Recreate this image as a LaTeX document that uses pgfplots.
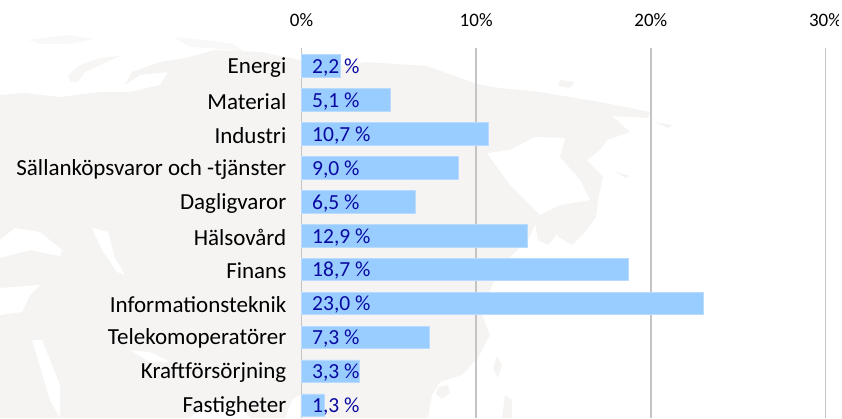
\documentclass[border=0pt]{standalone}
\usepackage{fontspec}
\setmainfont{Carlito}
\usepackage{pgfplots}
\pgfplotsset{compat=1.18}
\definecolor{land}{HTML}{F5F4F3}
\definecolor{barblue}{HTML}{99CCFF}
\definecolor{gridg}{HTML}{C4C4C4}
\definecolor{valblue}{HTML}{0A0AA0}
\begin{document}
\begin{tikzpicture}[x=1pt,y=1pt]
\path (0,0) rectangle (842,418);
\clip (0,0) rectangle (838.5,418);
% faint background map, drawn in image coordinates (y measured from the top)
\begin{scope}[yscale=-1,yshift=-418]
\fill[land] (0,95)--(25,93)--(60,97)--(100,92)--(130,92)--(160,85)--(168,72)--(140,75)--(125,85)--(132,72)--(160,62)--(185,58)--(215,50)--(260,52)--(300,60)--(340,65)--(367,62)--(427,66)--(477,84)--(500,88)--(540,92)--(600,102)--(650,112)--(648,118)--(612,116)--(630,132)--(607,140)--(600,150)--(587,160)--(603,177)--(598,200)--(596,217)--(585,232)--(572,245)--(560,238)--(545,222)--(535,225)--(528,240)--(505,262)--(492,285)--(482,315)--(490,335)--(478,358)--(462,375)--(440,382)--(432,395)--(428,418)--(0,418)--cycle;
\fill[land!60!white] (28,40)--(50,37)--(70,35)--(93,39)--(70,44)--(40,44)--cycle;
\fill[land!60!white] (173,37)--(205,40)--(233,44)--(245,52)--(210,48)--(190,47)--cycle;
\fill[land!80!white] (68,75)--(80,65)--(100,58)--(120,56)--(105,63)--(85,72)--(78,82)--(70,82)--cycle;
\fill[land] (560,80)--(575,82)--(570,88)--(558,86)--cycle;
\fill[land] (655,122)--(672,125)--(668,128)--cycle;
\fill[land] (614,171)--(620,173)--(630,176)--(626,178)--cycle;
\fill[land] (535,222)--(553,210)--(562,228)--(548,245)--(538,240)--cycle;
\fill[land] (497,356)--(502,365)--(498,378)--(493,368)--cycle;
\fill[land] (438,387)--(448,385)--(450,393)--(442,399)--(436,394)--cycle;
\fill[land] (505,395)--(512,400)--(512,418)--(502,418)--cycle;
% seas
\fill[white] (0,240)--(15,228)--(40,232)--(62,250)--(60,256)--(30,250)--(0,258)--cycle;
\fill[white] (92,228)--(108,232)--(115,258)--(125,275)--(117,272)--(102,250)--cycle;
\fill[white] (0,288)--(40,285)--(30,295)--(22,312)--(0,315)--cycle;
\fill[white] (32,340)--(42,340)--(60,385)--(60,418)--(50,400)--cycle;
\fill[white] (130,350)--(150,352)--(170,362)--(150,362)--cycle;
\fill[white] (190,418)--(215,398)--(240,406)--(250,418)--cycle;
\fill[white] (285,418)--(292,400)--(300,395)--(300,418)--cycle;
\fill[white] (487,153)--(510,150)--(535,137)--(565,138)--(560,157)--(580,180)--(590,200)--(560,205)--(540,215)--(510,185)--cycle;
\end{scope}
\begin{axis}[
  at={(301.5pt,0pt)}, anchor=south west,
  scale only axis, width=524pt, height=370pt,
  xmin=0, xmax=30, ymin=-0.38, ymax=10.53,
  axis line style={draw=none},
  axis x line*=top,
  xtick={0,10,20,30}, xticklabels={0\%,10\%,20\%,30\%},
  xmajorgrids, major grid style={gridg,line width=1.5pt},
  major tick length=0pt,
  ytick={0,...,10},
  yticklabels={Fastigheter,Kraftförsörjning,Telekomoperatörer,Informationsteknik,Finans,Hälsovård,Dagligvaror,Sällanköpsvaror och -tjänster,Industri,Material,Energi},
  y tick label style={font=\fontsize{23}{26}\selectfont,anchor=east,inner sep=0pt,xshift=-15pt,yshift=-1.5pt,text=black},
  x tick label style={font=\fontsize{19}{22}\selectfont,inner sep=0pt,yshift=21pt,text=black},
  clip=false,
]
\addplot[xbar, bar width=22.5pt, fill=barblue, draw=barblue!70!white, line width=0.5pt, bar shift=0pt, forget plot]
 coordinates {(2.2,10) (5.1,9) (10.7,8) (9.0,7) (6.5,6) (12.9,5) (18.7,4) (23.0,3) (7.3,2) (3.3,1) (1.3,0)};
\addplot[draw=none, mark=none, forget plot, point meta=explicit symbolic,
  nodes near coords,
  every node near coord/.append style={anchor=west, inner sep=0pt, xshift=10.5pt, yshift=-1.5pt, text=valblue, font=\fontsize{21.5}{26}\selectfont}]
 coordinates {(0,10)[2,2 \%] (0,9)[5,1 \%] (0,8)[10,7 \%] (0,7)[9,0 \%] (0,6)[6,5 \%] (0,5)[12,9 \%] (0,4)[18,7 \%] (0,3)[23,0 \%] (0,2)[7,3 \%] (0,1)[3,3 \%] (0,0)[1,3 \%]};
\end{axis}
\end{tikzpicture}
\end{document}
